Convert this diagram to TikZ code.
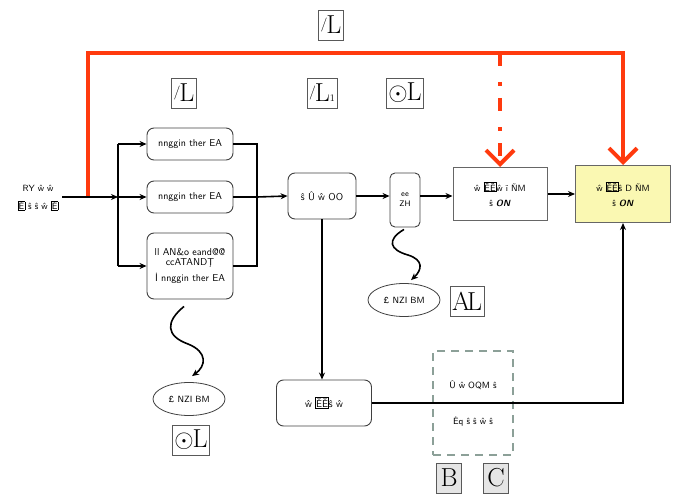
\documentclass[tikz,border=0pt]{standalone}
\usetikzlibrary{arrows.meta,shapes.geometric}
\definecolor{redline}{RGB}{255,58,14}
\definecolor{paleyellow}{RGB}{250,248,178}
\definecolor{poolgray}{RGB}{140,160,152}
\def\GlyphBox#1{{\setlength{\fboxsep}{0.4pt}\setlength{\fboxrule}{0.5pt}\fbox{#1}}}
\begin{document}
\begin{tikzpicture}[x=1pt,y=-1pt,
    wire/.style={line width=1.6pt,black},
    tip/.style={-{Stealth[length=7pt,width=6pt]}},
    redw/.style={line width=4pt,redline,line join=miter},
    redtip/.style={-{Straight Barb[length=14pt,width=28pt]}},
    gen/.style={draw=black!75,line width=0.9pt,rounded corners=7pt,inner sep=1pt,
        font=\sffamily\fontsize{10}{12}\selectfont,align=center},
    rect/.style={draw=black!60,line width=1pt,inner sep=1pt,
        font=\sffamily\fontsize{9}{15}\selectfont,align=center},
    err/.style={draw=black!75,line width=0.8pt,ellipse,inner sep=0pt,
        minimum width=72pt,minimum height=33pt,font=\sffamily\fontsize{9}{10}\selectfont},
    lbl/.style={draw=black!65,line width=0.8pt,inner sep=2pt,minimum height=30pt,
        font=\fontsize{26}{28}\selectfont}]
\useasboundingbox (0,0) rectangle (675,503);

% input and parallel generators
\node[font=\sffamily\fontsize{9}{10}\selectfont,align=center] (in) at (38,198)
    {RY ŵ ŵ\\[8pt]\GlyphBox{Ė} ŝ ŝ ŵ \GlyphBox{Ė}};
\coordinate (inend) at (62,197);
\coordinate (tap) at (88,197);
\coordinate (topL) at (88,53);
\coordinate (busL) at (118,197);
\coordinate (busR) at (257,197);

\node[gen,minimum width=86pt,minimum height=32pt] (gen1) at (190,144) {nnggin ther EA};
\node[gen,minimum width=86pt,minimum height=32pt] (gen2) at (190,197) {nnggin ther EA};
\node[gen,minimum width=86pt,minimum height=66pt] (gen3) at (190,266)
    {ll AN\&o eand@@\\[-2pt]ccATANDŢ\\[4pt]İ nnggin ther EA};

\node[gen,minimum width=68pt,minimum height=46pt] (fuse) at (322,196) {ŝ Û ŵ OO};
\node[gen,rounded corners=5pt,minimum width=30pt,minimum height=54pt,
    font=\sffamily\fontsize{8}{10}\selectfont] (sel) at (405,200) {ee\\ZH};
\node[rect,minimum width=94pt,minimum height=53pt] (check) at (500,194)
    {ŵ \GlyphBox{ĔĔ}ŵ ï ŇM\\ ŝ \textbf{\textit{ON}}};
\node[rect,fill=paleyellow,minimum width=95pt,minimum height=57pt] (final) at (623,194)
    {ŵ \GlyphBox{ĔĔ}ŝ D ŇM\\ ŝ \textbf{\textit{ON}}};

\node[gen,minimum width=95pt,minimum height=46pt] (store) at (324,403) {ŵ \GlyphBox{ĔĔ}ŝ ŵ};
\node[draw=poolgray,line width=1.4pt,dash pattern=on 8pt off 6pt,minimum width=80pt,
    minimum height=104pt,font=\sffamily\fontsize{9}{10}\selectfont,align=center]
    (pool) at (473,403) {Û ŵ OQM ŝ\\[26pt]Ėq ŝ ŝ ŵ ŝ};

\node[err] (err1) at (189,399) {£ NZI BM};
\node[err] (err2) at (404,300) {£ NZI BM};

% labels
\node[lbl] (lbTop) at (331,25) {\raisebox{5pt}{\fontsize{14}{14}\selectfont/}\kern-1pt L};
\node[lbl] (lbGen) at (184,93) {\raisebox{5pt}{\fontsize{14}{14}\selectfont/}\kern-1pt L};
\node[lbl] (lbFuse) at (322,93) {\raisebox{5pt}{\fontsize{14}{14}\selectfont/}\kern-1pt L\fontsize{10}{10}\selectfont 1};
\node[lbl] (lbSel) at (405,93) {$\odot$\kern-1pt L};
\node[lbl] (lbErr1) at (191,440) {$\odot$\kern-1pt L};
\node[lbl] (lbErr2) at (467,301) {A\kern-3pt L};
\node[lbl,fill=black!10,minimum width=25pt] (lbB) at (449,478) {B};
\node[lbl,fill=black!10,minimum width=25pt] (lbC) at (496,478) {C};

% feedback in red
\draw[redw,redtip] (tap) -- (topL) -| (final.north);
\draw[redw,redtip,dash pattern=on 13pt off 16pt on 4pt off 12pt] (check.north |- topL) -- (check.north);

% black connectors
\draw[wire,tip] (inend) -- (busL);
\draw[wire] (busL |- gen1.west) -- (busL |- gen3.west);
\draw[wire,tip] (busL |- gen1.west) -- (gen1.west);
\draw[wire,tip] (busL) -- (gen2.west);
\draw[wire,tip] (busL |- gen3.west) -- (gen3.west);
\draw[wire] (gen1.east) -- (gen1.east -| busR) -- (gen3.east -| busR) -- (gen3.east);
\draw[wire] (gen2.east) -- (busR);
\draw[wire,tip] (busR) -- (fuse.west);
\draw[wire,tip] (fuse.east) -- (sel.west |- fuse.east);
\draw[wire,tip] (sel.east |- fuse.east) -- (check.west |- fuse.east);
\draw[wire,tip] (check.east) -- (final.west);
\draw[wire,tip] (fuse.south) -- (fuse.south |- store.north);
\draw[wire,tip] (store.east) -| (final.south);

% squiggles to the errors
\draw[wire,tip] ([shift={(-6,7)}]gen3.south) .. controls (165,322) and (166,336) .. (188,344)
    .. controls (208,352) and (206,366) .. ([shift={(3,-6)}]err1.north);
\draw[wire,tip] ([shift={(-1,2)}]sel.south) .. controls (386,240) and (390,250) .. (408,255)
    .. controls (424,260) and (422,270) .. ([shift={(7,-3)}]err2.north);
\end{tikzpicture}
\end{document}
